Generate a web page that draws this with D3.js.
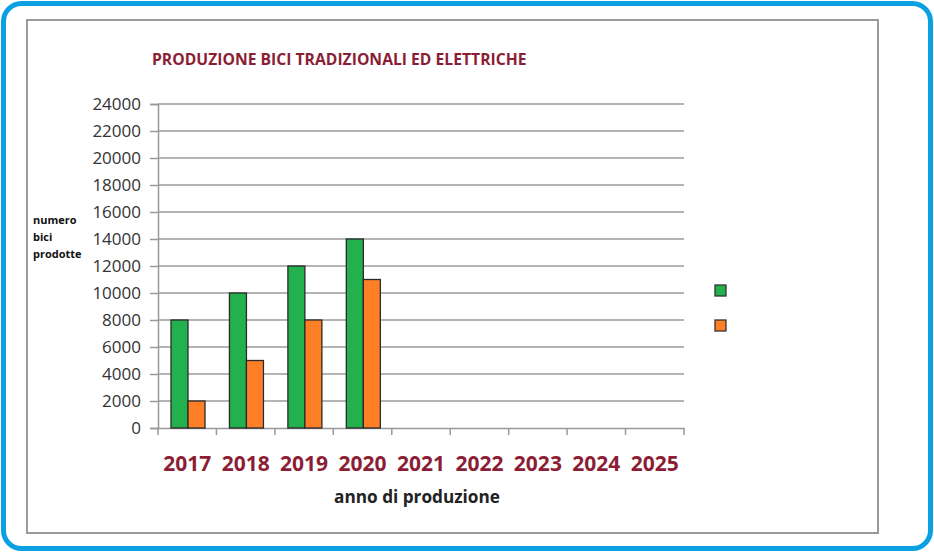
<!DOCTYPE html>
<html><head><meta charset="utf-8">
<script src="https://cdn.jsdelivr.net/npm/d3@7"></script>
<style>body{margin:0;background:#fff;} svg{display:block;}</style>
</head><body>
<svg id="c" width="934" height="553"></svg>
<script>
const years = ["2017","2018","2019","2020","2021","2022","2023","2024","2025"];
const tradizionali = [8000, 10000, 12000, 14000, null, null, null, null, null];
const elettriche = [2000, 5000, 8000, 11000, null, null, null, null, null];
const yTicks = [0,2000,4000,6000,8000,10000,12000,14000,16000,18000,20000,22000,24000];
const seriesColors = ["#22b14c", "#ff7f27"];

const svg = d3.select("#c");
// outer blue rounded frame
svg.append("rect").attr("x",3.5).attr("y",3.5).attr("width",927).attr("height",545)
  .attr("rx",18).attr("fill","#fff").attr("stroke","#0aa0e2").attr("stroke-width",5);
// inner gray frame
svg.append("rect").attr("x",27).attr("y",20).attr("width",851).attr("height",513)
  .attr("fill","#fff").attr("stroke","#9a9a9a").attr("stroke-width",2);

const x0 = 158, x1 = 684, yTop = 104, yBot = 428;
const x = d3.scaleBand().domain(years).range([x0, x1]).paddingInner(0).paddingOuter(0);
const y = d3.scaleLinear().domain([0, 24000]).range([yBot, yTop]);
const xs = d3.scaleBand().domain([0,1]).range([0, 34]);

// gridlines
svg.append("g").selectAll("line").data(yTicks.filter(d=>d>0)).join("line")
  .attr("x1", x0).attr("x2", x1).attr("y1", d=>y(d)).attr("y2", d=>y(d))
  .attr("stroke","#b4b4b4").attr("stroke-width",2);

// y axis
const ya = svg.append("g").attr("transform",`translate(${x0},0)`)
  .call(d3.axisLeft(y).tickValues(yTicks).tickSize(8).tickPadding(9).tickFormat(d3.format("d")));
ya.select(".domain").attr("stroke","#999").attr("stroke-width",1.5);
ya.selectAll(".tick line").attr("stroke","#999").attr("stroke-width",1.5);
ya.selectAll("text").attr("font-family","Open Sans, sans-serif").attr("font-size",17).attr("fill","#333");

// x axis
const xa = svg.append("g").attr("transform",`translate(0,${yBot})`)
  .call(d3.axisBottom(x).tickSize(0).tickPadding(0).tickFormat(""));
xa.select(".domain").attr("stroke","#999").attr("stroke-width",1.5);
svg.append("g").selectAll("line").data(years.concat(["end"])).join("line")
  .attr("x1",(d,i)=>x0 + i*x.bandwidth()).attr("x2",(d,i)=>x0 + i*x.bandwidth())
  .attr("y1",yBot).attr("y2",yBot+7).attr("stroke","#999").attr("stroke-width",1.5);

svg.append("g").selectAll("text").data(years).join("text")
  .attr("x", d=>x(d)+x.bandwidth()/2).attr("y", 471).attr("text-anchor","middle")
  .attr("font-family","Open Sans, sans-serif").attr("font-weight","bold").attr("font-size",21)
  .attr("fill","#8b1e35").text(d=>d);

// bars
const series = [tradizionali, elettriche];
series.forEach((vals, si) => {
  svg.append("g").selectAll("rect").data(years.map((yr,i)=>({yr, v: vals[i]})).filter(d=>d.v!=null)).join("rect")
    .attr("x", d=>x(d.yr) + 13 + xs(si)).attr("width", xs.bandwidth())
    .attr("y", d=>y(d.v)).attr("height", d=>yBot - y(d.v))
    .attr("fill", seriesColors[si]).attr("stroke","#2a2a2a").attr("stroke-width",1.3);
});

// title
svg.append("text").attr("x",152).attr("y",65).attr("font-family","Open Sans, sans-serif")
  .attr("font-weight","bold").attr("font-size",15.7).attr("fill","#8b1e35")
  .text("PRODUZIONE BICI TRADIZIONALI ED ELETTRICHE");

// axis titles
svg.append("text").attr("x",417).attr("y",503).attr("text-anchor","middle")
  .attr("font-family","Open Sans, sans-serif").attr("font-weight","bold").attr("font-size",17.2)
  .attr("fill","#222").text("anno di produzione");
const yl = svg.append("text").attr("font-family","Open Sans, sans-serif").attr("font-weight","bold")
  .attr("font-size",11).attr("fill","#111");
["numero","bici","prodotte"].forEach((t,i)=>yl.append("tspan").attr("x",33).attr("y",224+i*17).text(t));

// legend
svg.append("g").selectAll("rect").data(seriesColors).join("rect")
  .attr("x",715).attr("y",(d,i)=>285+i*35).attr("width",11).attr("height",11)
  .attr("fill",d=>d).attr("stroke","#333").attr("stroke-width",1.3);
</script>
</body></html>
